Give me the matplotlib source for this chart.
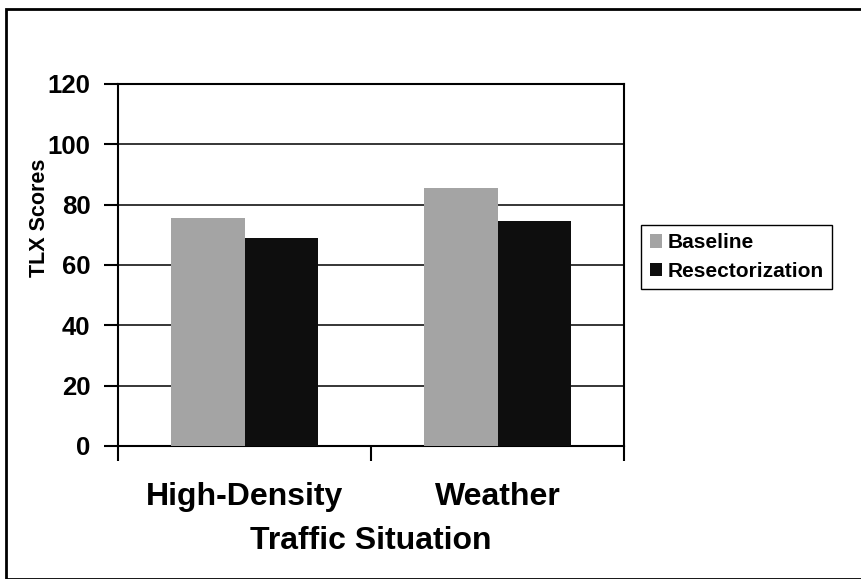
"""
TLX scores by traffic situation, grouped bars
"""
import matplotlib.pyplot as plt
import numpy as np
from matplotlib.patches import Rectangle

plt.rcParams['font.family'] = ['Liberation Sans', 'DejaVu Sans']
plt.rcParams['font.weight'] = 'bold'

# data
situations = ['High-Density', 'Weather']
baseline = [75.5, 85.5]
resectorization = [69, 74.5]
y_ticks = [0, 20, 40, 60, 80, 100, 120]

fig = plt.figure(figsize=(8.62, 5.79), dpi=100)
ax = fig.add_axes([0.137, 0.23, 0.587, 0.625])

x = np.arange(len(situations))
w = 0.29
ax.bar(x - w/2, baseline, w, color='#a4a4a4', label='Baseline', zorder=3)
ax.bar(x + w/2, resectorization, w, color='#0e0e0e', label='Resectorization', zorder=3)

ax.set_xlim(-0.5, len(situations) - 0.5)
ax.set_ylim(0, 120)
ax.set_yticks(y_ticks)
ax.yaxis.grid(True, color='black', linewidth=1.1, zorder=0)
ax.tick_params(axis='y', direction='out', length=10, width=1.5, labelsize=18.5, pad=10)

# category ticks sit between the groups
ax.set_xticks(np.arange(len(situations) + 1) - 0.5)
ax.set_xticklabels([])
ax.set_xticks(x, minor=True)
ax.set_xticklabels(situations, minor=True, fontsize=23, fontweight='bold')
ax.tick_params(axis='x', which='major', direction='out', length=11, width=1.5)
ax.tick_params(axis='x', which='minor', length=0, pad=26)
ax.set_xlabel('Traffic Situation', fontsize=23, fontweight='bold', labelpad=10)
ax.set_ylabel('TLX Scores', fontsize=15.5, fontweight='bold')
ax.yaxis.set_label_coords(-0.135, 0.63)

for s in ax.spines.values():
    s.set_linewidth(1.5)

ax.legend(loc='upper left', bbox_to_anchor=(1.034, 0.61),
          frameon=True, fancybox=False, edgecolor='black', framealpha=1,
          handlelength=0.6, handleheight=0.6, handletextpad=0.25,
          borderpad=0.4, labelspacing=0.45, borderaxespad=0,
          prop={'weight': 'bold', 'size': 15})

# outer frame around the whole figure
fig.patches.append(Rectangle((0.007, 0.0), 0.993, 0.984, transform=fig.transFigure,
                             fill=False, edgecolor='black', linewidth=2))

fig.savefig('out.png', dpi=100)
